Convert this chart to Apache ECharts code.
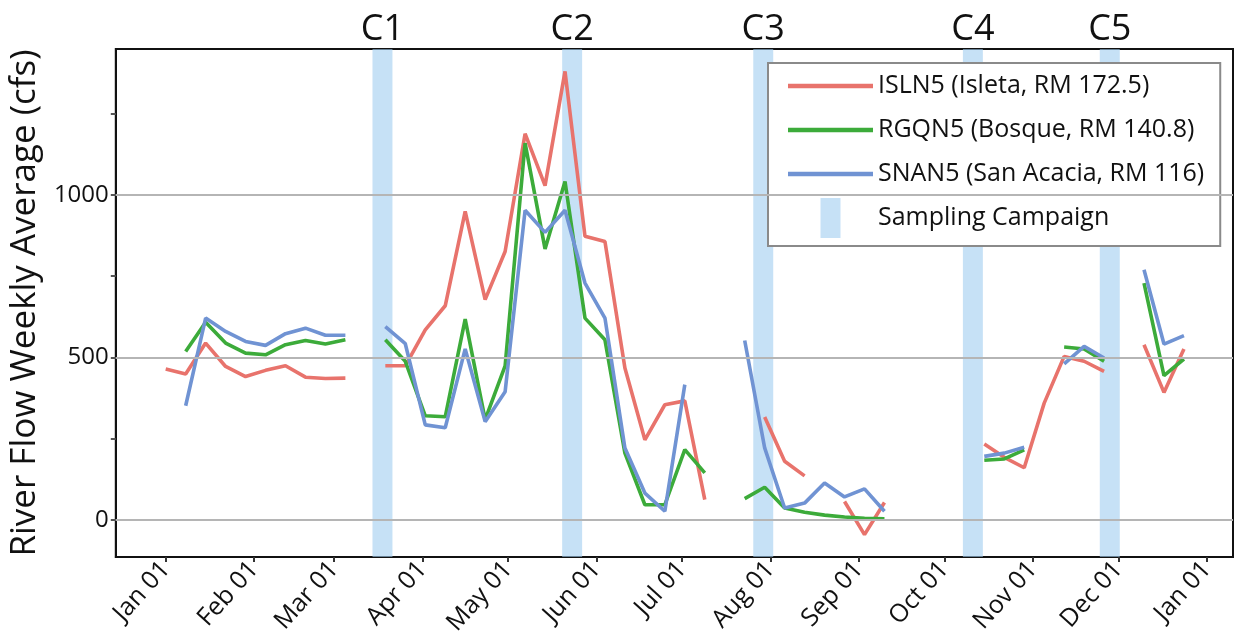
<!DOCTYPE html>
<html>
<head>
<meta charset="utf-8">
<script src="https://cdn.jsdelivr.net/npm/echarts@6/dist/echarts.min.js"></script>
<style>
  html, body { margin: 0; padding: 0; background: #fff; }
  #chart { width: 1236px; height: 643px; }
</style>
</head>
<body>
<div id="chart"></div>
<script>
// weekly sample dates (one per week, 2017)
const weekDates = [
  "2017-01-01", "2017-01-08", "2017-01-15", "2017-01-22", "2017-01-29",
  "2017-02-05", "2017-02-12", "2017-02-19", "2017-02-26", "2017-03-05",
  "2017-03-12", "2017-03-19", "2017-03-26", "2017-04-02", "2017-04-09",
  "2017-04-16", "2017-04-23", "2017-04-30", "2017-05-07", "2017-05-14",
  "2017-05-21", "2017-05-28", "2017-06-04", "2017-06-11", "2017-06-18",
  "2017-06-25", "2017-07-02", "2017-07-09", "2017-07-16", "2017-07-23",
  "2017-07-30", "2017-08-06", "2017-08-13", "2017-08-20", "2017-08-27",
  "2017-09-03", "2017-09-10", "2017-09-17", "2017-09-24", "2017-10-01",
  "2017-10-08", "2017-10-15", "2017-10-22", "2017-10-29", "2017-11-05",
  "2017-11-12", "2017-11-19", "2017-11-26", "2017-12-03", "2017-12-10",
  "2017-12-17", "2017-12-24",
];

const islnFlow = [
  464, 449, 544, 472, 441, 460, 474, 439, 435, 436,
  null,
  474, 474, 585, 659, 950, 678, 826, 1189, 1029, 1381, 873, 857, 467, 246, 354, 366, 62,
  null, null,
  316, 180, 135,
  null,
  56, -46, 53,
  null, null, null, null,
  233, 192, 160, 359, 503, 488, 457,
  null,
  539, 392, 526,
];

const rgqnFlow = [
  null, 518, 608, 544, 513, 508, 539, 552, 541, 554,
  null,
  554, 488, 320, 317, 618, 308, 474, 1160, 834, 1042, 621, 554, 205, 46, 46, 216, 144,
  null,
  65, 100, 36, 23, 14, 8, 4, 3,
  null, null, null, null,
  183, 187, 215,
  null,
  532, 526, 488,
  null,
  729, 444, 495,
];

const snanFlow = [
  null, 351, 621, 580, 549, 537, 573, 590, 568, 568,
  null,
  595, 542, 292, 283, 526, 302, 394, 953, 885, 953, 729, 621, 221, 82, 26, 416,
  null, null,
  552, 221, 36, 51, 113, 70, 95, 26,
  null, null, null, null,
  195, 205, 223,
  null,
  480, 534, 498,
  null,
  770, 541, 567,
];

const campaignNames = ["C1", "C2", "C3", "C4", "C5"];
const campaignStarts = ["2017-03-14 12", "2017-05-20 00", "2017-07-26 00", "2017-10-07 12", "2017-11-24 12"];
const campaignEnds = ["2017-03-21 12", "2017-05-27 00", "2017-08-02 00", "2017-10-14 12", "2017-12-01 12"];

const monthTicks = [
  "2017-01-01", "2017-02-01", "2017-03-01", "2017-04-01", "2017-05-01", "2017-06-01", "2017-07-01",
  "2017-08-01", "2017-09-01", "2017-10-01", "2017-11-01", "2017-12-01", "2018-01-01",
];
const monthLabels = ["Jan", "Feb", "Mar", "Apr", "May", "Jun", "Jul", "Aug", "Sep", "Oct", "Nov", "Dec"];

const yLabelValues = [0, 500, 1000];
const yTickValues = [0, 250, 500, 750, 1000, 1250];

const seriesNames = [
  "ISLN5 (Isleta, RM 172.5)",
  "RGQN5 (Bosque, RM 140.8)",
  "SNAN5 (San Acacia, RM 116)",
];
const campaignLabel = "Sampling Campaign";

const FONT = "Open Sans";
const DAY = 24 * 3600 * 1000;
const yearStart = Date.UTC(2017, 0, 1);

// date string -> days since 2017-01-01 (x axis is a day count)
function toDay(s) {
  const [datePart, hourPart] = s.split(" ");
  const [y, m, d] = datePart.split("-").map(Number);
  return (Date.UTC(y, m - 1, d, hourPart ? Number(hourPart) : 0) - yearStart) / DAY;
}

function pairs(values) {
  return weekDates.map((d, i) => [toDay(d), values[i]]);
}

const tickDays = monthTicks.map(toDay);

const chart = echarts.init(document.getElementById("chart"));

function lineSeries(name, values, color) {
  return {
    name,
    type: "line",
    data: pairs(values),
    connectNulls: false,
    symbol: "none",
    color,
    lineStyle: { color, width: 3.6 },
    z: 3,
  };
}

chart.setOption({
  backgroundColor: "#fff",
  animation: false,
  textStyle: { fontFamily: FONT },
  grid: {
    left: 114, right: 3, top: 49, bottom: 86,
    show: true, borderColor: "#111", borderWidth: 2,
  },
  legend: {
    orient: "vertical",
    left: 768,
    top: 63,
    padding: [3, 16, 8, 20],
    itemGap: 4,
    itemWidth: 85,
    itemHeight: 40,
    backgroundColor: "#fff",
    borderColor: "#8a8a8a",
    borderWidth: 2,
    borderRadius: 0,
    textStyle: { fontSize: 25, lineHeight: 40, color: "#111", fontFamily: FONT },
    data: [
      { name: seriesNames[0], icon: "path://M0,0H78V4H0Z" },
      { name: seriesNames[1], icon: "path://M0,0H78V4H0Z" },
      { name: seriesNames[2], icon: "path://M0,0H78V4H0Z" },
      { name: campaignLabel, icon: "path://M0,0H20V40H0Z" },
    ],
  },
  xAxis: {
    type: "value",
    min: -17.5,
    max: 374.2,
    axisLine: { show: true, onZero: false, lineStyle: { color: "#111", width: 2 } },
    axisTick: {
      show: true,
      customValues: tickDays,
      length: 5,
      lineStyle: { color: "#333", width: 2 },
    },
    axisLabel: {
      customValues: tickDays,
      rotate: 48,
      fontSize: 25,
      color: "#111",
      margin: 8,
      formatter: (v) => monthLabels[tickDays.indexOf(v) % 12] + " 01",
    },
    splitLine: { show: false },
  },
  yAxis: {
    type: "value",
    min: -115,
    max: 1450,
    name: "River Flow Weekly Average (cfs)",
    nameLocation: "middle",
    nameGap: 66,
    nameTextStyle: { fontSize: 35, color: "#111", fontFamily: FONT },
    axisLine: { show: true, onZero: false, lineStyle: { color: "#111", width: 2 } },
    axisTick: {
      show: true,
      customValues: yTickValues,
      length: 5,
      lineStyle: { color: "#555", width: 2 },
    },
    axisLabel: {
      customValues: yLabelValues,
      fontSize: 24,
      color: "#111",
      margin: 7,
      formatter: (v) => String(v),
    },
    splitLine: { show: false },
  },
  series: [
    {
      name: "gridlines",
      type: "line",
      data: [],
      silent: true,
      z: 1,
      markLine: {
        silent: true,
        symbol: "none",
        label: { show: false },
        lineStyle: { color: "#b5b5b5", width: 2, type: "solid" },
        data: yLabelValues.map((v) => ({ yAxis: v })),
      },
    },
    lineSeries(seriesNames[0], islnFlow, "#e8736c"),
    lineSeries(seriesNames[1], rgqnFlow, "#3cab3a"),
    lineSeries(seriesNames[2], snanFlow, "#7093d3"),
    {
      name: campaignLabel,
      type: "line",
      data: [],
      color: "rgba(160,205,240,0.6)",
      z: 5,
      markArea: {
        silent: true,
        itemStyle: { color: "rgba(160,205,240,0.6)" },
        label: {
          show: true,
          position: "top",
          distance: 1,
          fontSize: 36,
          color: "#111",
          fontFamily: FONT,
        },
        data: campaignNames.map((n, i) => [
          { name: n, xAxis: toDay(campaignStarts[i]) },
          { xAxis: toDay(campaignEnds[i]) },
        ]),
      },
    },
  ],
});
</script>
</body>
</html>
